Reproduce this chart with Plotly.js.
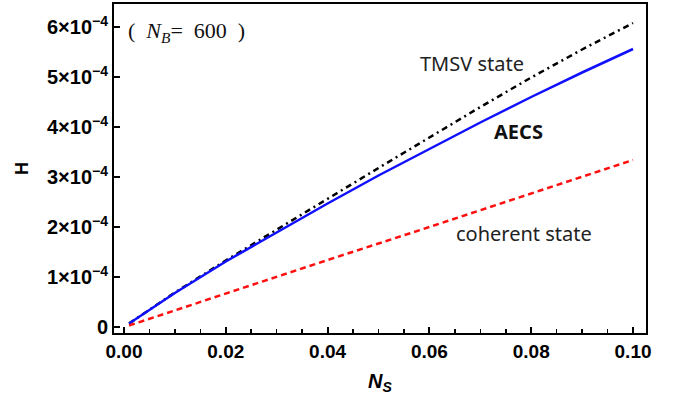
<!DOCTYPE html>
<html>
<head>
<meta charset="utf-8">
<script src="https://cdn.plot.ly/plotly-3.0.1.min.js"></script>
<style>html,body{margin:0;padding:0;background:#fff;}#chart{width:679px;height:401px;}</style>
</head>
<body>
<div id="chart"></div>
<script>
// Data (H in units of 1e-4)
const nsCurve = [0.001, 0.01, 0.02, 0.03, 0.04, 0.05, 0.06, 0.07, 0.08, 0.09, 0.10];
const hTMSV   = [0.07, 0.69, 1.33, 1.95, 2.57, 3.18, 3.79, 4.40, 4.99, 5.55, 6.08];
const hAECS   = [0.07, 0.68, 1.31, 1.89, 2.47, 3.03, 3.56, 4.09, 4.60, 5.09, 5.56];
const nsCoh   = [0.001, 0.02, 0.04, 0.06, 0.08, 0.10];
const hCoh    = [0.03, 0.67, 1.34, 2.00, 2.67, 3.34];
const yTickVals = [0, 1, 2, 3, 4, 5, 6];
const yTickMant = ["0", "1", "2", "3", "4", "5", "6"];
const xTickVals = [0, 0.02, 0.04, 0.06, 0.08, 0.10];
const xTickText = ["0.00", "0.02", "0.04", "0.06", "0.08", "0.10"];

const scale = 1e-4;
const sc = a => a.map(v => v * scale);
const yTickText = yTickMant.map(m => m === "0" ? "<b>0</b>" :
  "<b>" + m + "×10<sup>−4</sup></b>");

const traces = [
  {x: nsCurve, y: sc(hTMSV), mode: 'lines', line: {color: '#000000', width: 2.5, dash: '6px,4px,2px,4px'}, name: 'TMSV state'},
  {x: nsCurve, y: sc(hAECS), mode: 'lines', line: {color: '#1010ff', width: 2.5}, name: 'AECS'},
  {x: nsCoh, y: sc(hCoh), mode: 'lines', line: {color: '#ff1010', width: 2.5, dash: '6px,4px'}, name: 'coherent state'}
];

const annFont = {family: 'Noto Sans, sans-serif', size: 20, color: '#222'};

const layout = {
  width: 679, height: 401,
  margin: {l: 114, r: 33, t: 4, b: 68},
  paper_bgcolor: '#fff', plot_bgcolor: '#fff',
  showlegend: false,
  xaxis: {
    range: [-0.00196, 0.10255],
    tickvals: xTickVals, ticktext: xTickText.map(t => '<b>' + t + '</b>'),
    ticks: 'inside', ticklen: 6, tickwidth: 2, tickcolor: '#000',
    minor: {dtick: 0.005, ticks: 'inside', ticklen: 4, tickwidth: 1.5, tickcolor: '#000'},
    showline: true, linecolor: '#000', linewidth: 2, mirror: true,
    showgrid: false, zeroline: false,
    tickfont: {family: 'Liberation Sans, Arial, sans-serif', size: 19, color: '#000'},
    title: {text: '<b><i>N<sub>S</sub></i></b>', font: {family: 'Liberation Sans, Arial, sans-serif', size: 20, color: '#000'}, standoff: 13}
  },
  yaxis: {
    range: [-0.12e-4, 6.46e-4],
    tickvals: sc(yTickVals), ticktext: yTickText,
    ticks: 'inside', ticklen: 6, tickwidth: 2, tickcolor: '#000',
    showline: true, linecolor: '#000', linewidth: 2, mirror: true,
    showgrid: false, zeroline: false,
    tickfont: {family: 'Liberation Sans, Arial, sans-serif', size: 20, color: '#000'},
    title: {text: '<b>H</b>', font: {family: 'Liberation Sans, Arial, sans-serif', size: 18, color: '#000'}, standoff: 14}
  },
  annotations: [
    {xref: 'paper', yref: 'paper', x: 0.022, y: 0.915, xanchor: 'left', yanchor: 'middle', showarrow: false,
     text: '(  <i>N</i><sub><i>B</i></sub>=  600  )', font: {family: 'Liberation Serif, DejaVu Serif, serif', size: 22, color: '#111'}},
    {xref: 'paper', yref: 'paper', x: (472 - 114) / 532, y: (333 - 63) / 329, xanchor: 'center', yanchor: 'middle', showarrow: false,
     text: 'TMSV state', font: annFont},
    {xref: 'paper', yref: 'paper', x: (518 - 114) / 532, y: (333 - 131) / 329, xanchor: 'center', yanchor: 'middle', showarrow: false,
     text: '<b>AECS</b>', font: {family: 'Noto Sans, sans-serif', size: 20, color: '#111'}},
    {xref: 'paper', yref: 'paper', x: (524 - 114) / 532, y: (333 - 234) / 329, xanchor: 'center', yanchor: 'middle', showarrow: false,
     text: 'coherent state', font: annFont}
  ]
};

Plotly.newPlot('chart', traces, layout, {displayModeBar: false, staticPlot: true});
</script>
</body>
</html>
